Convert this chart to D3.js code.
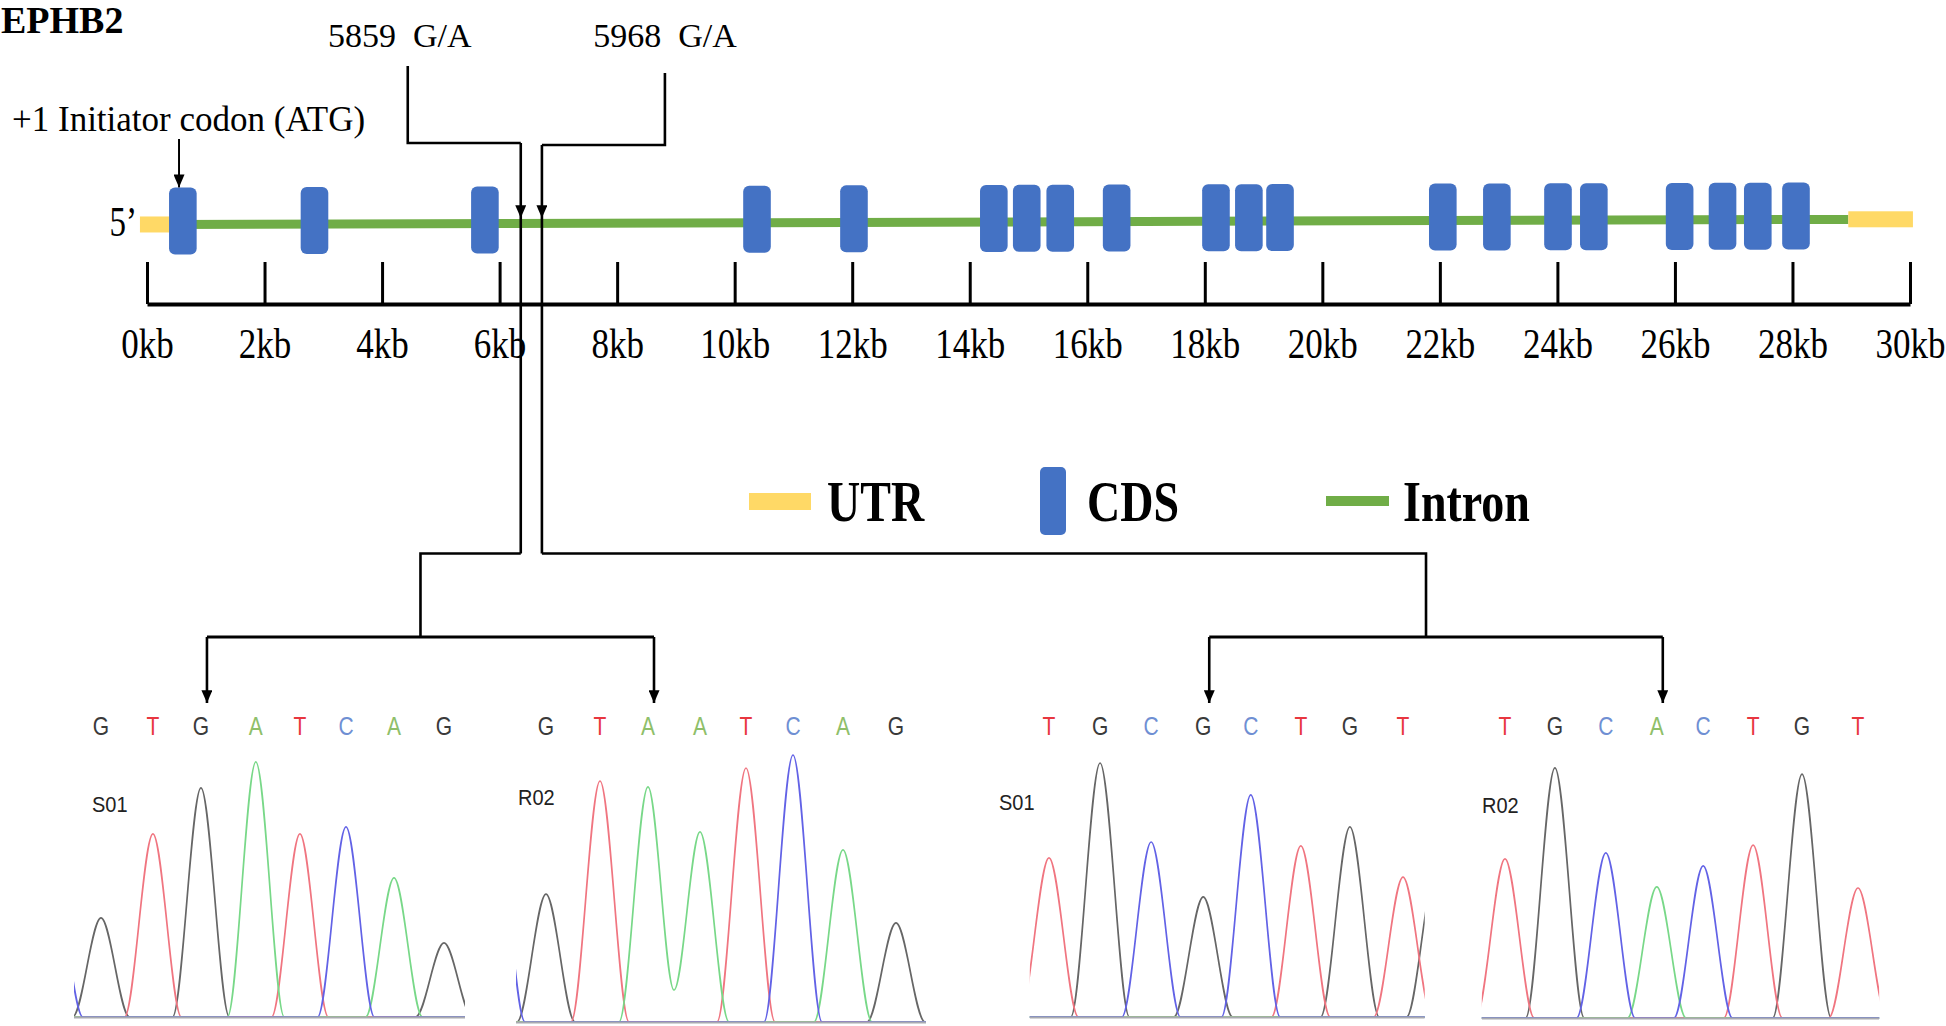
<!DOCTYPE html>
<html><head><meta charset="utf-8">
<script src="https://cdn.jsdelivr.net/npm/d3@7"></script>
<style>
html,body{margin:0;padding:0;background:#fff;}
svg{display:block;}
</style></head>
<body>
<svg id="chart" width="1946" height="1026"></svg>
<script>
// ================= DATA =================
const geneTitle = "EPHB2";
const tickKb = [0,2,4,6,8,10,12,14,16,18,20,22,24,26,28,30];
const cdsKb = [0.61, 2.85, 5.75, 10.38, 12.03, 14.41, 14.97, 15.54, 16.50, 18.19,
               18.75, 19.28, 22.05, 22.97, 24.01, 24.62, 26.08, 26.81, 27.41, 28.06];
const cdsWidthKb = 0.47;
const utr5Kb = [-0.12, 0.40];
const utr3Kb = [28.95, 30.05];
const startCodonKb = 0.545;
const startCodonLabel = "+1 Initiator codon (ATG)";
const mutationLabels = ["5859  G/A", "5968  G/A"];
const mutationKb = [6.36, 6.72];
const legendLabels = ["UTR", "CDS", "Intron"];

// chromatogram panels
const panelNames = ["S01", "R02", "S01", "R02"];
const panelBases = ["GTGATCAG", "GTAATCAG", "TGCGCTGT", "TGCACTGT"];
const panelPeakPos = [
  [0, 1.06, 2.04, 3.16, 4.06, 5.00, 5.98, 7],
  [0, 1.08, 2.04, 3.08, 4.00, 4.94, 5.94, 7],
  [0, 1.01, 2.02, 3.05, 3.99, 4.98, 5.95, 7],
  [0, 0.99, 2.00, 3.01, 3.93, 4.92, 5.89, 7]
];
const panelPeakVal = [
  [381, 704, 881, 981, 704, 731, 535, 285],
  [492, 927, 904, 731, 977, 1027, 662, 381],
  [612, 977, 673, 462, 854, 658, 731, 538],
  [612, 962, 635, 504, 585, 665, 938, 500]
];
// valleys between adjacent same-base peaks: [index of first peak, value]
const panelValleys = [[], [[2, 123]], [], []];
// partly visible peaks at the panel edges
const panelFlanks = [
  [{b: "C", pos: -0.95, v: 500}],
  [{b: "C", pos: -1.00, v: 750}],
  [{b: "G", pos: 7.65, v: 560}],
  []
];
const panelMutIndex = [2, 2, 3, 3];
const panelMutation = [0, 0, 1, 1];

// ================= LAYOUT / STYLE =================
const serif = "'Liberation Serif','Times New Roman',Times,serif";
const sans = "'Liberation Sans',Arial,Helvetica,sans-serif";
const colUTR = "#ffd966", colCDS = "#4472c4", colIntron = "#70ad47";
const traceCol = {G: "#666666", T: "#f07580", A: "#78d888", C: "#6262e6"};
const letterCol = {G: "#3a3a3a", T: "#e8363f", A: "#8fbf6a", C: "#6f8fd3"};

const panelRange = [[101, 444], [546, 896], [1049, 1403], [1505, 1858]];
const panelExtent = [[-0.55, 7.43], [-0.6, 7.6], [-0.38, 7.43], [-0.46, 7.42]];
const panelBaseY = [1017, 1022, 1017, 1018];
const panelLabelPos = [[92, 812], [518, 805], [999, 810], [1482, 813]];

const svg = d3.select("#chart");
const defs = svg.append("defs");
defs.append("marker").attr("id", "arrow")
  .attr("viewBox", "0 -6 14 12").attr("refX", 14).attr("refY", 0)
  .attr("markerWidth", 13).attr("markerHeight", 11)
  .attr("markerUnits", "userSpaceOnUse").attr("orient", "auto")
  .append("path").attr("d", "M0,-6L14,0L0,6Z").attr("fill", "#000");

const x = d3.scaleLinear().domain([0, 30]).range([147, 1910]);
const yc = d3.scaleLinear().domain([0, 30]).range([224.5, 219.2]);

// title
svg.append("text").attr("x", 1).attr("y", 33)
  .attr("font-family", serif).attr("font-weight", "bold").attr("font-size", 38)
  .text(geneTitle);

// ---------- gene structure ----------
const gene = svg.append("g");
gene.append("line")
  .attr("x1", x(utr5Kb[1])).attr("y1", yc(utr5Kb[1]))
  .attr("x2", x(utr3Kb[0])).attr("y2", yc(utr3Kb[0]))
  .attr("stroke", colIntron).attr("stroke-width", 9);
[utr5Kb, utr3Kb].forEach(u => {
  const m = (u[0] + u[1]) / 2;
  gene.append("rect").attr("x", x(u[0])).attr("width", x(u[1]) - x(u[0]))
    .attr("y", yc(m) - 8).attr("height", 16).attr("fill", colUTR);
});
gene.selectAll("rect.cds").data(cdsKb).join("rect").attr("class", "cds")
  .attr("x", d => x(d - cdsWidthKb / 2))
  .attr("width", x(cdsWidthKb) - x(0))
  .attr("y", d => yc(d) - 37).attr("height", 67)
  .attr("rx", 6).attr("fill", colCDS);

// 5' label
svg.append("g").attr("transform", `translate(137,236) scale(1,1.25)`)
  .append("text").attr("text-anchor", "end")
  .attr("font-family", serif).attr("font-size", 33).text("5\u2019");

// start codon
svg.append("text").attr("x", 12).attr("y", 131)
  .attr("font-family", serif).attr("font-size", 35).text(startCodonLabel);
svg.append("line").attr("x1", x(startCodonKb)).attr("x2", x(startCodonKb))
  .attr("y1", 139).attr("y2", yc(startCodonKb) - 37)
  .attr("stroke", "#000").attr("stroke-width", 2).attr("marker-end", "url(#arrow)");

// ---------- axis ----------
const axis = d3.axisBottom(x).tickValues(tickKb)
  .tickSizeInner(-42).tickSizeOuter(0).tickPadding(20)
  .tickFormat(d => d + "kb");
const ga = svg.append("g").attr("transform", "translate(0,304)").call(axis);
ga.attr("font-family", serif).attr("font-size", 35);
ga.select(".domain").attr("stroke", "#000").attr("stroke-width", 4);
ga.selectAll(".tick line").attr("stroke", "#000").attr("stroke-width", 3);
ga.selectAll(".tick text").attr("fill", "#000").attr("transform", "scale(1,1.2)");

// ---------- mutation callouts ----------
const lineStyle = s => s.attr("fill", "none").attr("stroke", "#000").attr("stroke-width", 2.6);
const mutLayout = [
  {topDx: -113, topY: 66, elbowY: 143, labelDx: -8},
  {topDx: 123, topY: 73, elbowY: 145, labelDx: 0}
];
const arrowTipY = 218, junctionY = 553.5, branchY = 637, panelArrowY = 703;

mutationKb.forEach((kb, i) => {
  const mx = x(kb), L = mutLayout[i];
  const tx = mx + L.topDx;
  svg.append("text").attr("x", tx + L.labelDx).attr("y", 47).attr("text-anchor", "middle")
    .attr("font-family", serif).attr("font-size", 34).style("white-space", "pre")
    .text(mutationLabels[i]);
  svg.append("path").attr("d", `M${tx},${L.topY}V${L.elbowY}H${mx}`).call(lineStyle);
  svg.append("line").attr("x1", mx).attr("x2", mx).attr("y1", L.elbowY).attr("y2", arrowTipY)
    .call(lineStyle).attr("marker-end", "url(#arrow)");
  svg.append("line").attr("x1", mx).attr("x2", mx).attr("y1", arrowTipY).attr("y2", junctionY)
    .call(lineStyle);

  // branch to the two chromatograms
  const pIdx = panelMutation.map((m, j) => m === i ? j : -1).filter(j => j >= 0);
  const ax = pIdx.map(j => {
    const px = d3.scaleLinear().domain([0, 7]).range(panelRange[j]);
    return px(panelPeakPos[j][panelMutIndex[j]]) + 6;
  });
  const bx = (ax[0] + ax[1]) / 2 - 10;
  svg.append("path").attr("d", `M${mx},${junctionY}H${bx}V${branchY}`).call(lineStyle);
  svg.append("line").attr("x1", ax[0]).attr("x2", ax[1]).attr("y1", branchY).attr("y2", branchY)
    .call(lineStyle).attr("stroke-width", 3);
  ax.forEach(a => {
    svg.append("line").attr("x1", a).attr("x2", a).attr("y1", branchY).attr("y2", panelArrowY)
      .call(lineStyle).attr("marker-end", "url(#arrow)");
  });
});

// ---------- legend ----------
const leg = svg.append("g");
leg.append("rect").attr("x", 749).attr("y", 493).attr("width", 62).attr("height", 17).attr("fill", colUTR);
leg.append("rect").attr("x", 1040).attr("y", 467).attr("width", 26).attr("height", 68).attr("rx", 5).attr("fill", colCDS);
leg.append("rect").attr("x", 1326).attr("y", 496).attr("width", 63).attr("height", 10).attr("fill", colIntron);
[[827, legendLabels[0]], [1087, legendLabels[1]], [1403, legendLabels[2]]].forEach(([lx, t]) => {
  leg.append("g").attr("transform", `translate(${lx},521) scale(1,1.22)`)
    .append("text").attr("font-family", serif).attr("font-weight", "bold")
    .attr("font-size", 46).text(t);
});

// ---------- chromatograms ----------
const hw = 0.58;
panelBases.forEach((seq, i) => {
  const px = d3.scaleLinear().domain([0, 7]).range(panelRange[i]);
  const py = d3.scaleLinear().domain([0, 1000]).range([panelBaseY[i], panelBaseY[i] - 260]);
  const [e0, e1] = panelExtent[i];
  defs.append("clipPath").attr("id", "clip" + i).append("rect")
    .attr("x", px(e0)).attr("y", 600).attr("width", px(e1) - px(e0)).attr("height", 430);
  const g = svg.append("g").attr("clip-path", `url(#clip${i})`);

  const all = seq.split("").map((b, j) => ({b, pos: panelPeakPos[i][j], v: panelPeakVal[i][j], idx: j}))
    .concat(panelFlanks[i].map(f => ({...f, idx: -1})));
  const valleyMap = new Map(panelValleys[i]);
  const line = d3.line().x(d => px(d[0])).y(d => py(d[1])).curve(d3.curveMonotoneX);

  ["G", "T", "A", "C"].forEach(b => {
    const peaks = all.filter(d => d.b === b).sort((a, c) => a.pos - c.pos);
    const pts = [[e0 - 2, 0]];
    peaks.forEach((p, k) => {
      const prev = peaks[k - 1], next = peaks[k + 1];
      if (!(prev && p.pos - prev.pos < 2 * hw)) pts.push([p.pos - hw, 0]);
      pts.push([p.pos, p.v]);
      if (next && next.pos - p.pos < 2 * hw) {
        pts.push([(p.pos + next.pos) / 2, valleyMap.has(p.idx) ? valleyMap.get(p.idx) : 100]);
      } else pts.push([p.pos + hw, 0]);
    });
    pts.push([e1 + 2, 0]);
    g.append("path").attr("d", line(pts))
      .attr("fill", "none").attr("stroke", traceCol[b]).attr("stroke-width", 1.7);
  });

  // grey noise floor drawn over the flat parts of the traces
  g.append("line").attr("x1", px(e0)).attr("x2", px(e1))
    .attr("y1", py(0) + 0.5).attr("y2", py(0) + 0.5)
    .attr("stroke", "#a9aab0").attr("stroke-width", 2.2);

  // base letters
  seq.split("").forEach((b, j) => {
    svg.append("g").attr("transform", `translate(${px(panelPeakPos[i][j])},735) scale(1,1.25)`)
      .append("text").attr("text-anchor", "middle")
      .attr("font-family", sans).attr("font-size", 21).attr("fill", letterCol[b]).text(b);
  });

  // sample label
  svg.append("g").attr("transform", `translate(${panelLabelPos[i][0]},${panelLabelPos[i][1]}) scale(1,1.1)`)
    .append("text").attr("font-family", sans).attr("font-size", 20).attr("fill", "#222")
    .text(panelNames[i]);
});
</script>
</body></html>
